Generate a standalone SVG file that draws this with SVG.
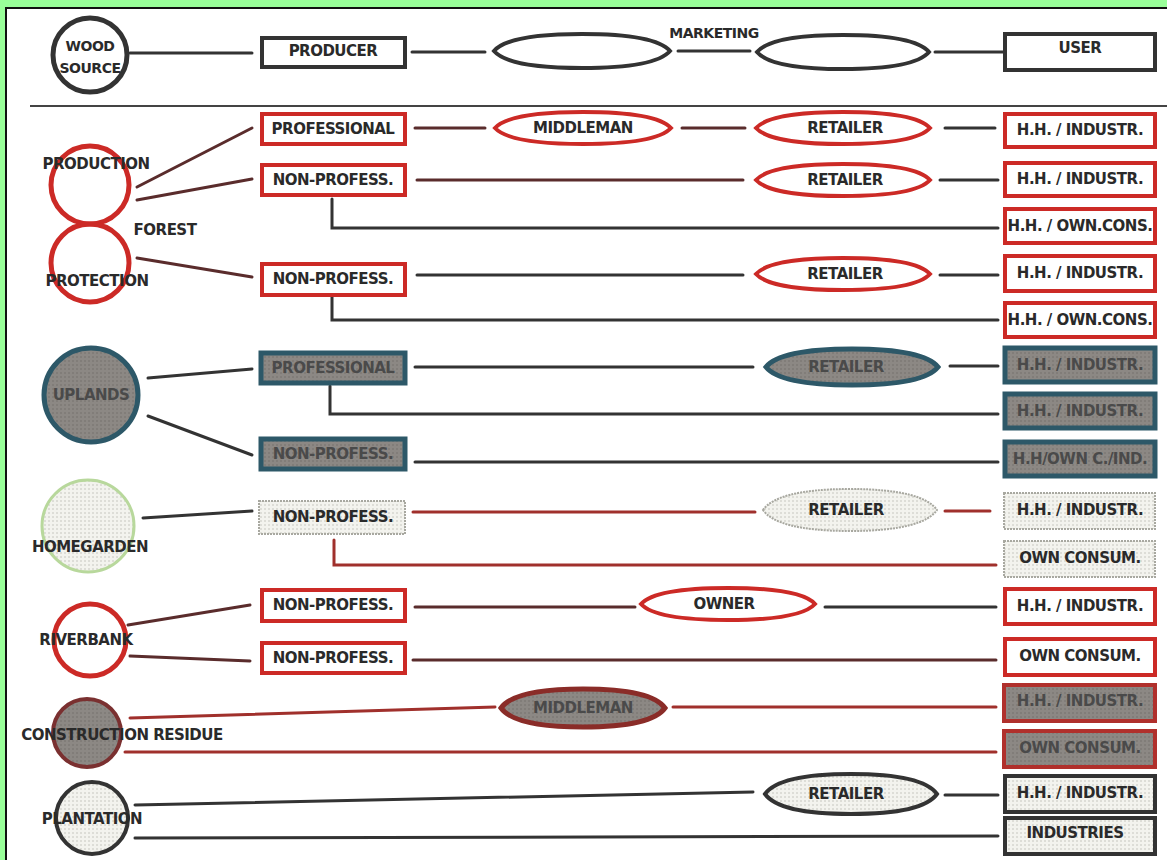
<svg xmlns="http://www.w3.org/2000/svg" width="1167" height="860" viewBox="0 0 1167 860">
  <defs>
    <pattern id="dots" width="4" height="4" patternUnits="userSpaceOnUse">
      <rect width="4" height="4" fill="#f3f3ee"/>
      <circle cx="1" cy="1" r="0.7" fill="#b8b8b0"/>
    </pattern>
    <pattern id="dotsGrey" width="4" height="4" patternUnits="userSpaceOnUse">
      <rect width="4" height="4" fill="#8c8884"/>
      <circle cx="1" cy="1" r="0.8" fill="#726e6a"/>
    </pattern>
  </defs>
  <style>
    text { font-family: "DejaVu Sans", "Liberation Sans", sans-serif; font-weight: bold; font-size: 15px; fill: #2a2a2a; text-anchor: middle; letter-spacing: -0.5px; }
    .small { font-size: 14px; }
    .soft { fill: #4a4a4a; }
    .line { fill: none; stroke-width: 3; stroke-linecap: round; }
    .dark { stroke: #333; }
    .maroon { stroke: #5a2c2c; }
    .brick { stroke: #a0302c; }
    .rbox { fill: #fff; stroke: #cc2a26; stroke-width: 4; }
    .rell { fill: #fff; stroke: #cc2a26; stroke-width: 4; }
    .kbox { fill: #fff; stroke: #333; stroke-width: 4; }
    .kell { fill: #fff; stroke: #333; stroke-width: 4; }
    .tbox { fill: url(#dotsGrey); stroke: #2d5868; stroke-width: 5; }
    .tell { fill: url(#dotsGrey); stroke: #2d5868; stroke-width: 5; }
    .gbox { fill: url(#dots); stroke: #a8a8a0; stroke-width: 2; stroke-dasharray: 2 1; }
    .gell { fill: url(#dots); stroke: #a8a8a0; stroke-width: 2; stroke-dasharray: 2 1; }
    .cbox { fill: url(#dotsGrey); stroke: #b0302c; stroke-width: 4; }
    .cell { fill: url(#dotsGrey); stroke: #8a2c28; stroke-width: 5; }
    .pbox { fill: url(#dots); stroke: #333; stroke-width: 4; }
    .pell { fill: url(#dots); stroke: #333; stroke-width: 4; }
  </style>

  <!-- window frame -->
  <rect x="0" y="0" width="1167" height="860" fill="#99ff99"/>
  <rect x="6" y="8" width="1170" height="860" fill="#fff" stroke="#111" stroke-width="2"/>

  <!-- connectors -->
  <g id="connectors">
    <!-- header -->
    <line class="line dark" x1="130" y1="53" x2="252" y2="53"/>
    <line class="line dark" x1="412" y1="52" x2="485" y2="52"/>
    <line class="line dark" x1="678" y1="51" x2="750" y2="51"/>
    <line class="line dark" x1="935" y1="52" x2="1003" y2="52"/>
    <line x1="30" y1="106" x2="1167" y2="106" stroke="#444" stroke-width="2"/>

    <!-- forest -->
    <line class="line maroon" x1="137" y1="187" x2="252" y2="128"/>
    <line class="line maroon" x1="137" y1="200" x2="252" y2="179"/>
    <line class="line maroon" x1="137" y1="258" x2="252" y2="277"/>
    <line class="line maroon" x1="415" y1="128" x2="485" y2="128"/>
    <line class="line maroon" x1="682" y1="128" x2="745" y2="128"/>
    <line class="line dark" x1="945" y1="128" x2="995" y2="128"/>
    <line class="line maroon" x1="417" y1="180" x2="743" y2="180"/>
    <line class="line dark" x1="940" y1="180" x2="998" y2="180"/>
    <polyline class="line dark" points="332,199 332,228 998,228"/>
    <line class="line dark" x1="417" y1="275" x2="743" y2="275"/>
    <line class="line dark" x1="940" y1="275" x2="998" y2="275"/>
    <polyline class="line dark" points="332,297 332,320 998,320"/>

    <!-- uplands -->
    <line class="line dark" x1="148" y1="378" x2="252" y2="369"/>
    <line class="line dark" x1="148" y1="416" x2="252" y2="455"/>
    <line class="line dark" x1="415" y1="367" x2="753" y2="367"/>
    <line class="line dark" x1="950" y1="366" x2="998" y2="366"/>
    <polyline class="line dark" points="330,386 330,414 998,414"/>
    <line class="line dark" x1="415" y1="462" x2="998" y2="462"/>

    <!-- homegarden -->
    <line class="line dark" x1="143" y1="518" x2="252" y2="511"/>
    <line class="line brick" x1="413" y1="512" x2="755" y2="512"/>
    <line class="line brick" x1="945" y1="511" x2="990" y2="511"/>
    <polyline class="line brick" points="334,540 334,565 996,565"/>

    <!-- riverbank -->
    <line class="line maroon" x1="128" y1="625" x2="250" y2="605"/>
    <line class="line maroon" x1="130" y1="656" x2="250" y2="661"/>
    <line class="line maroon" x1="415" y1="607" x2="635" y2="607"/>
    <line class="line dark" x1="825" y1="607" x2="996" y2="607"/>
    <line class="line maroon" x1="413" y1="660" x2="996" y2="660"/>

    <!-- construction residue -->
    <line class="line brick" x1="130" y1="718" x2="495" y2="707"/>
    <line class="line brick" x1="673" y1="707" x2="996" y2="707"/>
    <line class="line brick" x1="125" y1="752" x2="996" y2="752"/>

    <!-- plantation -->
    <line class="line dark" x1="135" y1="805" x2="753" y2="792"/>
    <line class="line dark" x1="945" y1="795" x2="998" y2="795"/>
    <line class="line dark" x1="135" y1="838" x2="998" y2="836"/>
  </g>

  <!-- header row -->
  <g id="wood-source">
    <circle cx="90" cy="55" r="37" fill="#fff" stroke="#333" stroke-width="5"/>
    <text x="90" y="51" class="small">WOOD</text>
    <text x="90" y="73" class="small">SOURCE</text>
  </g>
  <g id="producer">
    <rect x="262" y="38" width="143" height="29" class="kbox"/>
    <text x="333" y="56">PRODUCER</text>
  </g>
  <g id="marketing-1">
    <path class="kell" d="M494,51 C502.8,40.8 529.2,34 582,34 C634.8,34 661.2,40.8 670,51 C661.2,61.2 634.8,68 582,68 C529.2,68 502.8,61.2 494,51Z"/>
  </g>
  <g id="marketing-label">
    <text x="714" y="38" class="small">MARKETING</text>
  </g>
  <g id="marketing-2">
    <path class="kell" d="M757,52 C765.6,41.8 791.4,35 843,35 C894.6,35 920.4,41.8 929,52 C920.4,62.2 894.6,69 843,69 C791.4,69 765.6,62.2 757,52Z"/>
  </g>
  <g id="user">
    <rect x="1005" y="34" width="150" height="36" class="kbox"/>
    <text x="1080" y="53">USER</text>
  </g>

  <!-- forest -->
  <g id="forest-production">
    <circle cx="90" cy="185" r="39" fill="#fff" stroke="#cc2a26" stroke-width="5"/>
    <text x="96" y="169">PRODUCTION</text>
  </g>
  <g id="forest-protection">
    <circle cx="90" cy="263" r="39" fill="none" stroke="#cc2a26" stroke-width="5"/>
    <text x="97" y="286">PROTECTION</text>
  </g>
  <g id="forest-label">
    <text x="165" y="235">FOREST</text>
  </g>
  <g id="f-professional">
    <rect x="262" y="114" width="143" height="30" class="rbox"/>
    <text x="333" y="134">PROFESSIONAL</text>
  </g>
  <g id="f-middleman">
    <path class="rell" d="M495,128 C503.8,118.4 530.2,112 583,112 C635.8,112 662.2,118.4 671,128 C662.2,137.6 635.8,144 583,144 C530.2,144 503.8,137.6 495,128Z"/>
    <text x="583" y="133">MIDDLEMAN</text>
  </g>
  <g id="f-retailer-1">
    <path class="rell" d="M756,128 C764.7,118.4 790.8,112 843,112 C895.2,112 921.3,118.4 930,128 C921.3,137.6 895.2,144 843,144 C790.8,144 764.7,137.6 756,128Z"/>
    <text x="845" y="133">RETAILER</text>
  </g>
  <g id="f-user-1">
    <rect x="1005" y="114" width="150" height="33" class="rbox"/>
    <text x="1080" y="135">H.H. / INDUSTR.</text>
  </g>
  <g id="f-nonprof-1">
    <rect x="262" y="165" width="143" height="30" class="rbox"/>
    <text x="333" y="185">NON-PROFESS.</text>
  </g>
  <g id="f-retailer-2">
    <path class="rell" d="M756,180 C764.7,170.4 790.8,164 843,164 C895.2,164 921.3,170.4 930,180 C921.3,189.6 895.2,196 843,196 C790.8,196 764.7,189.6 756,180Z"/>
    <text x="845" y="185">RETAILER</text>
  </g>
  <g id="f-user-2">
    <rect x="1005" y="163" width="150" height="33" class="rbox"/>
    <text x="1080" y="184">H.H. / INDUSTR.</text>
  </g>
  <g id="f-user-3">
    <rect x="1005" y="209" width="150" height="34" class="rbox"/>
    <text x="1080" y="231">H.H. / OWN.CONS.</text>
  </g>
  <g id="f-nonprof-2">
    <rect x="262" y="264" width="143" height="31" class="rbox"/>
    <text x="333" y="284">NON-PROFESS.</text>
  </g>
  <g id="f-retailer-3">
    <path class="rell" d="M756,274 C764.7,264.4 790.8,258 843,258 C895.2,258 921.3,264.4 930,274 C921.3,283.6 895.2,290 843,290 C790.8,290 764.7,283.6 756,274Z"/>
    <text x="845" y="279">RETAILER</text>
  </g>
  <g id="f-user-4">
    <rect x="1005" y="256" width="150" height="35" class="rbox"/>
    <text x="1080" y="278">H.H. / INDUSTR.</text>
  </g>
  <g id="f-user-5">
    <rect x="1005" y="303" width="150" height="34" class="rbox"/>
    <text x="1080" y="325">H.H. / OWN.CONS.</text>
  </g>

  <!-- uplands -->
  <g id="uplands">
    <circle cx="91" cy="395" r="47" fill="url(#dotsGrey)" stroke="#2d5868" stroke-width="5"/>
    <text x="91" y="400" class="soft">UPLANDS</text>
  </g>
  <g id="u-professional">
    <rect x="261" y="353" width="144" height="30" class="tbox"/>
    <text x="333" y="373" class="soft">PROFESSIONAL</text>
  </g>
  <g id="u-retailer">
    <path class="tell" d="M766,367 C774.6,356.2 800.4,349 852,349 C903.6,349 929.4,356.2 938,367 C929.4,377.8 903.6,385 852,385 C800.4,385 774.6,377.8 766,367Z"/>
    <text x="846" y="372" class="soft">RETAILER</text>
  </g>
  <g id="u-user-1">
    <rect x="1005" y="348" width="150" height="34" class="tbox"/>
    <text x="1080" y="370" class="soft">H.H. / INDUSTR.</text>
  </g>
  <g id="u-user-2">
    <rect x="1005" y="394" width="150" height="34" class="tbox"/>
    <text x="1080" y="416" class="soft">H.H. / INDUSTR.</text>
  </g>
  <g id="u-nonprof">
    <rect x="261" y="439" width="144" height="30" class="tbox"/>
    <text x="333" y="459" class="soft">NON-PROFESS.</text>
  </g>
  <g id="u-user-3">
    <rect x="1005" y="442" width="150" height="34" class="tbox"/>
    <text x="1080" y="464" class="soft">H.H/OWN C./IND.</text>
  </g>

  <!-- homegarden -->
  <g id="homegarden">
    <circle cx="88" cy="526" r="46" fill="url(#dots)" stroke="#b8d89c" stroke-width="3"/>
    <text x="90" y="552">HOMEGARDEN</text>
  </g>
  <g id="h-nonprof">
    <rect x="259" y="501" width="146" height="33" class="gbox"/>
    <text x="333" y="522">NON-PROFESS.</text>
  </g>
  <g id="h-retailer">
    <path class="gell" d="M763,510 C771.7,497.4 797.8,489 850,489 C902.2,489 928.3,497.4 937,510 C928.3,522.6 902.2,531 850,531 C797.8,531 771.7,522.6 763,510Z"/>
    <text x="846" y="515">RETAILER</text>
  </g>
  <g id="h-user-1">
    <rect x="1004" y="493" width="151" height="36" class="gbox"/>
    <text x="1080" y="515">H.H. / INDUSTR.</text>
  </g>
  <g id="h-user-2">
    <rect x="1004" y="541" width="151" height="36" class="gbox"/>
    <text x="1080" y="563">OWN CONSUM.</text>
  </g>

  <!-- riverbank -->
  <g id="riverbank">
    <circle cx="90" cy="640" r="36" fill="#fff" stroke="#cc2a26" stroke-width="5"/>
    <text x="86" y="645">RIVERBANK</text>
  </g>
  <g id="r-nonprof-1">
    <rect x="262" y="590" width="143" height="31" class="rbox"/>
    <text x="333" y="610">NON-PROFESS.</text>
  </g>
  <g id="r-owner">
    <path class="rell" d="M641,604 C649.7,594.4 675.8,588 728,588 C780.2,588 806.3,594.4 815,604 C806.3,613.6 780.2,620 728,620 C675.8,620 649.7,613.6 641,604Z"/>
    <text x="724" y="609">OWNER</text>
  </g>
  <g id="r-user-1">
    <rect x="1005" y="589" width="150" height="35" class="rbox"/>
    <text x="1080" y="611">H.H. / INDUSTR.</text>
  </g>
  <g id="r-nonprof-2">
    <rect x="262" y="643" width="143" height="30" class="rbox"/>
    <text x="333" y="663">NON-PROFESS.</text>
  </g>
  <g id="r-user-2">
    <rect x="1005" y="639" width="150" height="36" class="rbox"/>
    <text x="1080" y="661">OWN CONSUM.</text>
  </g>

  <!-- construction residue -->
  <g id="construction-residue">
    <circle cx="87" cy="733" r="34" fill="url(#dotsGrey)" stroke="#7a3030" stroke-width="4"/>
    <text x="122" y="740">CONSTRUCTION RESIDUE</text>
  </g>
  <g id="c-middleman">
    <path class="cell" d="M501,708 C509.2,696.6 533.8,689 583,689 C632.2,689 656.8,696.6 665,708 C656.8,719.4 632.2,727 583,727 C533.8,727 509.2,719.4 501,708Z"/>
    <text x="583" y="713" class="soft">MIDDLEMAN</text>
  </g>
  <g id="c-user-1">
    <rect x="1004" y="685" width="151" height="36" class="cbox"/>
    <text x="1080" y="706" class="soft">H.H. / INDUSTR.</text>
  </g>
  <g id="c-user-2">
    <rect x="1004" y="731" width="151" height="36" class="cbox"/>
    <text x="1080" y="753" class="soft">OWN CONSUM.</text>
  </g>

  <!-- plantation -->
  <g id="plantation">
    <circle cx="92" cy="818" r="36" fill="url(#dots)" stroke="#333" stroke-width="4"/>
    <text x="92" y="824">PLANTATION</text>
  </g>
  <g id="p-retailer">
    <path class="pell" d="M765,794 C773.6,782 799.4,774 851,774 C902.6,774 928.4,782 937,794 C928.4,806 902.6,814 851,814 C799.4,814 773.6,806 765,794Z"/>
    <text x="846" y="799">RETAILER</text>
  </g>
  <g id="p-user-1">
    <rect x="1005" y="776" width="150" height="36" class="pbox"/>
    <text x="1080" y="798">H.H. / INDUSTR.</text>
  </g>
  <g id="p-user-2">
    <rect x="1005" y="818" width="150" height="36" class="pbox"/>
    <text x="1075" y="838">INDUSTRIES</text>
  </g>
</svg>
